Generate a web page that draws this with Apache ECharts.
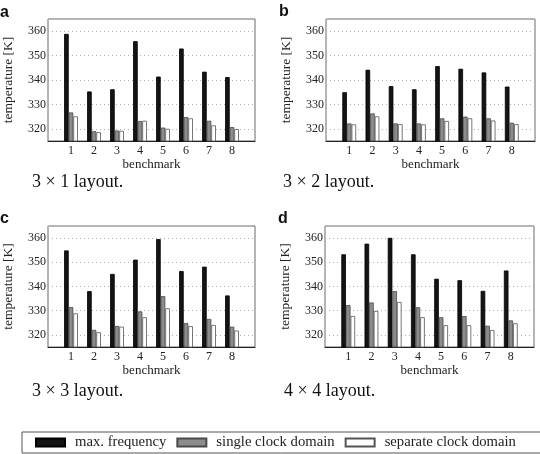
<!DOCTYPE html>
<html>
<head>
<meta charset="utf-8">
<script src="https://cdn.jsdelivr.net/npm/echarts@6/dist/echarts.min.js"></script>
<style>html,body{margin:0;padding:0;background:#fff}#c{width:540px;height:454px}</style>
</head>
<body>
<div id="c"></div>
<script>
var benchmarks = [1, 2, 3, 4, 5, 6, 7, 8];
var seriesNames = ['max. frequency', 'single clock domain', 'separate clock domain'];
var yTicks = [320, 330, 340, 350, 360];

// panel a: 3 x 1 layout
var a_max = [358.9, 335.3, 336.2, 355.9, 341.4, 352.9, 343.4, 341.2];
var a_single = [326.7, 319.0, 319.3, 323.2, 320.5, 324.8, 323.3, 320.7];
var a_separate = [325.1, 318.6, 319.2, 323.3, 320.0, 324.3, 321.4, 319.9];
// panel b: 3 x 2 layout
var b_max = [335.0, 344.2, 337.5, 336.2, 345.7, 344.6, 343.1, 337.3];
var b_single = [322.2, 326.3, 322.2, 322.2, 324.3, 325.0, 324.3, 322.5];
var b_separate = [321.8, 325.1, 321.9, 321.8, 323.2, 324.3, 323.4, 321.9];
// panel c: 3 x 3 layout
var c_max = [354.9, 338.1, 345.2, 351.1, 359.6, 346.4, 348.2, 336.3];
var c_single = [331.5, 322.1, 323.7, 329.7, 336.0, 324.9, 326.6, 323.4];
var c_separate = [328.9, 321.1, 323.4, 327.3, 331.0, 323.6, 324.1, 321.8];
// panel d: 4 x 4 layout
var d_max = [353.3, 357.7, 360.1, 353.3, 343.2, 342.6, 338.2, 346.6];
var d_single = [332.3, 333.4, 338.1, 331.4, 327.3, 327.8, 323.8, 326.0];
var d_separate = [327.8, 329.9, 333.6, 327.3, 324.0, 324.0, 322.0, 324.8];

var panelLetters = ['a', 'b', 'c', 'd'];
var captions = ['3 \u00d7 1 layout.', '3 \u00d7 2 layout.', '3 \u00d7 3 layout.', '4 \u00d7 4 layout.'];

var panels = [
  [a_max, a_single, a_separate],
  [b_max, b_single, b_separate],
  [c_max, c_single, c_separate],
  [d_max, d_single, d_separate]
];

var SERIF = '"Liberation Serif", "Times New Roman", serif';
var grids = [
  {left: 44, top: 19, width: 211, height: 122},
  {left: 326, top: 19, width: 209, height: 122},
  {left: 44, top: 226, width: 211, height: 121},
  {left: 325, top: 226, width: 209, height: 121}
];
var letterPos = [[0, 5], [279, 4], [0, 211], [278, 211]];
var captionPos = [[32, 183], [283, 183], [32, 392], [284, 392]];

var styles = [
  {color: '#141414', borderColor: '#000', borderWidth: 0.8},
  {color: '#8c8c8c', borderColor: '#4a4a4a', borderWidth: 0.8},
  {color: '#ffffff', borderColor: '#555', borderWidth: 0.8}
];

var option = {
  animation: false,
  backgroundColor: '#fff',
  grid: grids.map(function (g) {
    return Object.assign({show: true, borderColor: '#6a6a6a', borderWidth: 1, containLabel: false}, g);
  }),
  xAxis: grids.map(function (g, i) {
    return {
      type: 'value', gridIndex: i, min: 0, max: 9, interval: 1,
      name: 'benchmark', nameLocation: 'middle', nameGap: 17,
      nameTextStyle: {fontFamily: SERIF, fontSize: 13, color: '#222'},
      axisLine: {show: true, lineStyle: {color: '#222', width: 1.2}},
      axisTick: {show: false},
      splitLine: {show: false},
      axisLabel: {
        fontFamily: SERIF, fontSize: 12, color: '#222', margin: 4,
        formatter: function (v) { return benchmarks.indexOf(v) >= 0 ? String(v) : ''; }
      }
    };
  }),
  yAxis: grids.map(function (g, i) {
    return {
      type: 'value', gridIndex: i, min: 315, max: 365, splitNumber: 5,
      name: 'temperature [K]', nameLocation: 'middle', nameGap: 33,
      nameTextStyle: {fontFamily: SERIF, fontSize: 13.5, color: '#222'},
      axisLine: {show: false},
      axisTick: {show: false},
      splitLine: {show: true, lineStyle: {color: '#b0b0b0', width: 1, type: [1, 3]}},
      axisLabel: {
        fontFamily: SERIF, fontSize: 12, color: '#222', margin: 2,
        formatter: function (v) { return yTicks.indexOf(v) >= 0 ? String(v) : ''; }
      }
    };
  }),
  legend: {
    data: seriesNames,
    left: 22, top: 432,
    width: 700,
    orient: 'horizontal',
    padding: [3, 40, 3, 13],
    borderColor: '#555', borderWidth: 1,
    itemWidth: 29, itemHeight: 8, itemGap: 10,
    icon: 'rect',
    textStyle: {fontFamily: SERIF, fontSize: 14.7, color: '#222', padding: [0, 0, 0, 5]}
  },
  graphic: [],
  series: []
};

panels.forEach(function (p, i) {
  p.forEach(function (vals, k) {
    option.series.push({
      type: 'bar',
      name: seriesNames[k],
      xAxisIndex: i, yAxisIndex: i,
      barWidth: 4.6, barGap: '0%',
      itemStyle: styles[k],
      data: benchmarks.map(function (b, j) { return [b, vals[j]]; })
    });
  });
  option.graphic.push({
    type: 'text', left: letterPos[i][0], top: letterPos[i][1],
    style: {text: panelLetters[i], font: 'bold 16px "Liberation Sans", Arial, sans-serif', fill: '#111'}
  });
  option.graphic.push({
    type: 'text', left: captionPos[i][0], top: captionPos[i][1] - 10,
    style: {text: captions[i], font: '18px ' + SERIF, fill: '#111'}
  });
});

var chart = echarts.init(document.getElementById('c'), null, {renderer: 'canvas'});
chart.setOption(option);
</script>
</body>
</html>
